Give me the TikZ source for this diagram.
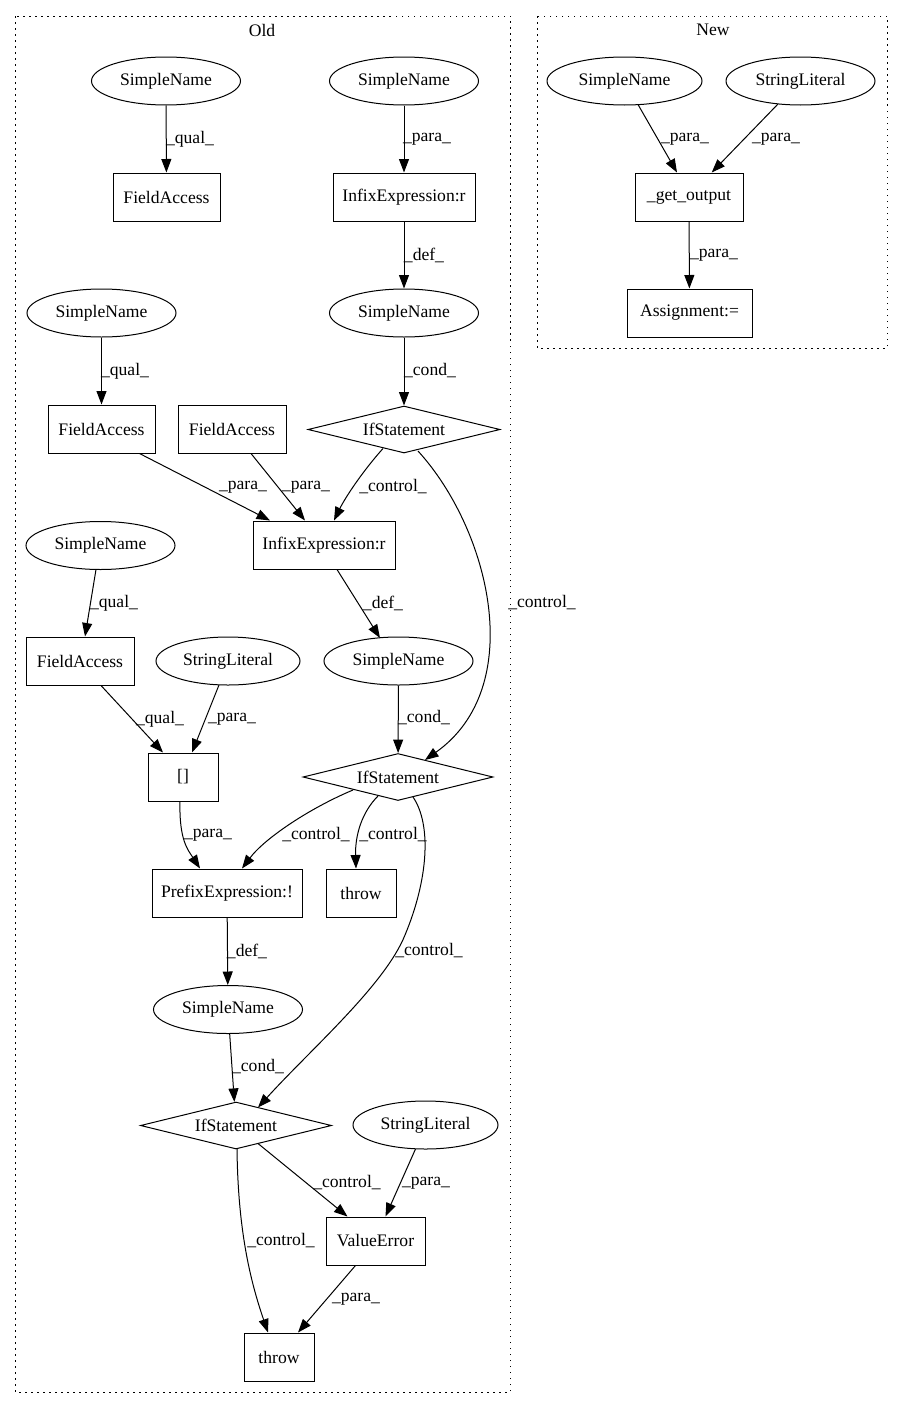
\documentclass[tikz,border=0pt]{standalone}
\usepackage{fontspec}
\setmainfont{Liberation Serif}
\usetikzlibrary{shapes.geometric,arrows.meta,calc}
\newcommand\gvfont{\fontsize{17.6}{20}\selectfont}
\begin{document}
\begin{tikzpicture}[x=1pt,y=-1pt,
  every node/.style={font=\gvfont},
  ell/.style={ellipse, draw, line width=1pt, minimum width=149pt, minimum height=48pt, inner sep=0pt},
  box/.style={rectangle, draw, line width=1pt, minimum height=48pt, inner sep=0pt},
  dia/.style={diamond, draw, line width=1pt, aspect=4, minimum width=192pt, minimum height=47pt, inner sep=0pt},
  arr/.style={draw, line width=1pt, -{Triangle[length=13.5pt,width=10pt]}},
  lab/.style={inner sep=0pt},
  cluster/.style={draw, line width=1pt, dash pattern=on 1.5pt off 4.5pt}]
\useasboundingbox (0,0) rectangle (903,1408);
% clusters
\draw[cluster] (15,16) rectangle (510,1392);
\node[lab] (oldlab) at (262,30) {Old};
\draw[cluster] (537,16) rectangle (887,348);
\node[lab] (newlab) at (713,30) {New};
% Old nodes
\node[ell] (SN1) at (166,81) {SimpleName};
\node[box, minimum width=107pt] (FA1) at (166.5,197) {FieldAccess};
\node[ell] (SN2) at (404,81) {SimpleName};
\node[box, minimum width=142pt] (IE1) at (404,197) {InfixExpression:r};
\node[ell] (SN3) at (404,313) {SimpleName};
\node[dia] (IF1) at (404,429.5) {IfStatement};
\node[ell] (SN4) at (101.5,313) {SimpleName};
\node[box, minimum width=107pt] (FA2) at (101.5,429) {FieldAccess};
\node[box, minimum width=108pt] (FA3) at (232,429) {FieldAccess};
\node[box, minimum width=142pt] (IE2) at (324,545) {InfixExpression:r};
\node[ell] (SN5) at (100.5,545.5) {SimpleName};
\node[box, minimum width=108pt] (FA4) at (80,661) {FieldAccess};
\node[ell, minimum width=144pt] (SL1) at (228,661) {StringLiteral};
\node[ell] (SN6) at (398.5,661) {SimpleName};
\node[dia, minimum width=190pt] (IF2) at (398,777) {IfStatement};
\node[box, minimum width=70pt] (BR) at (183,777) {[]};
\node[box, minimum width=150pt] (PE) at (227,893) {PrefixExpression:!};
\node[box, minimum width=70pt] (TH1) at (361,893) {throw};
\node[ell] (SN7) at (228,1009.5) {SimpleName};
\node[dia, minimum width=191pt] (IF3) at (236,1125.5) {IfStatement};
\node[ell, minimum width=145pt] (SL2) at (425.5,1125) {StringLiteral};
\node[box, minimum width=99pt] (VE) at (375.5,1241) {ValueError};
\node[box, minimum width=70pt] (TH2) at (279,1357) {throw};
% New nodes
\node[ell, minimum width=155pt] (SN8) at (624.5,81) {SimpleName};
\node[ell] (SL3) at (800.5,81) {StringLiteral};
\node[box, minimum width=108pt] (GO) at (689,197) {\_get\_output};
\node[box, minimum width=125pt] (AS) at (689.5,313) {Assignment:=};
% Old edges
\draw[arr] (SN1) -- (FA1);
\node[lab] (l1) at (190,139) {\_qual\_};
\draw[arr] (SN2) -- (IE1);
\node[lab] (l2) at (427,139) {\_para\_};
\draw[arr] (IE1) -- (SN3);
\node[lab] (l3) at (424,255) {\_def\_};
\draw[arr] (SN3) -- (IF1);
\node[lab] (l4) at (430,371) {\_cond\_};
\draw[arr] (SN4) -- (FA2);
\node[lab] (l5) at (125,371) {\_qual\_};
\draw[arr] ([xshift=38pt]FA2.south) -- ([xshift=-54pt]IE2.north);
\node[lab] (l6) at (243,487) {\_para\_};
\draw[arr] ([xshift=19pt]FA3.south) -- ([xshift=-19pt]IE2.north);
\node[lab] (l7) at (306,487) {\_para\_};
\draw[arr] ($(IF1)+(-21,19)$) .. controls (362,472) and (345,498) .. ([xshift=10pt]IE2.north);
\node[lab] (l8) at (393,487) {\_control\_};
\draw[arr] ($(IF1)+(14,21.5)$) .. controls (490,530) and (528,687) .. ($(IF2)+(27,-17)$);
\node[lab] (l9) at (542,603) {\_control\_};
\draw[arr] ($(SN5)+(-4.5,24)$) -- ([xshift=5pt]FA4.north);
\node[lab] (l27) at (114,603) {\_qual\_};
\draw[arr] ([xshift=13pt]IE2.south) -- ($(SN6)+(-18.5,-23)$);
\node[lab] (l10) at (383,603) {\_def\_};
\draw[arr] (SN6) -- (IF2);
\node[lab] (l11) at (424,718) {\_cond\_};
\draw[arr] ([xshift=21pt]FA4.south) -- ([xshift=-20pt]BR.north);
\node[lab] (l12) at (160,719) {\_qual\_};
\draw[arr] ($(SL1)+(-9,24)$) -- ([xshift=9pt]BR.north);
\node[lab] (l13) at (232,719) {\_para\_};
\draw[arr] ([xshift=-3pt]BR.south) .. controls (179,840) and (188,850) .. ([xshift=-27pt]PE.north);
\node[lab] (l14) at (208,835) {\_para\_};
\draw[arr] ($(IF2)+(-45,13)$) .. controls (310,808) and (265,838) .. ([xshift=15pt]PE.north);
\node[lab] (l15) at (316,835) {\_control\_};
\draw[arr] ($(IF2)+(-20,19)$) .. controls (362,812) and (355,835) .. ([xshift=-5pt]TH1.north);
\node[lab] (l16) at (393,835) {\_control\_};
\draw[arr] ($(IF2)+(15,20)$) .. controls (432,825) and (428,880) .. (405,935)
  .. controls (385,985) and (310,1050) .. ($(IF3)+(22,-18)$);
\node[lab] (l17) at (429,951) {\_control\_};
\draw[arr] (PE) -- (SN7);
\node[lab] (l18) at (247,951) {\_def\_};
\draw[arr] (SN7) -- (IF3);
\node[lab] (l19) at (258,1067) {\_cond\_};
\draw[arr] ($(IF3)+(22,18)$) -- ([xshift=-28pt]VE.north);
\node[lab] (l20) at (347,1183) {\_control\_};
\draw[arr] ($(IF3)+(1,23.5)$) .. controls (238,1230) and (250,1280) .. ([xshift=-11pt]TH2.north);
\node[lab] (l21) at (281,1241) {\_control\_};
\draw[arr] ($(SL2)+(-10,24)$) -- ([xshift=10pt]VE.north);
\node[lab] (l22) at (426,1183) {\_para\_};
\draw[arr] ([xshift=-20pt]VE.south) -- ([xshift=19pt]TH2.north);
\node[lab] (l23) at (356,1299) {\_para\_};
% New edges
\draw[arr] ($(SN8)+(13.5,23.5)$) -- ([xshift=-12pt]GO.north);
\node[lab] (l24) at (685,139) {\_para\_};
\draw[arr] ($(SL3)+(-22.5,23)$) -- ([xshift=22.7pt]GO.north);
\node[lab] (l25) at (776,139) {\_para\_};
\draw[arr] (GO) -- (AS);
\node[lab] (l26) at (714,255) {\_para\_};
\end{tikzpicture}
\end{document}
